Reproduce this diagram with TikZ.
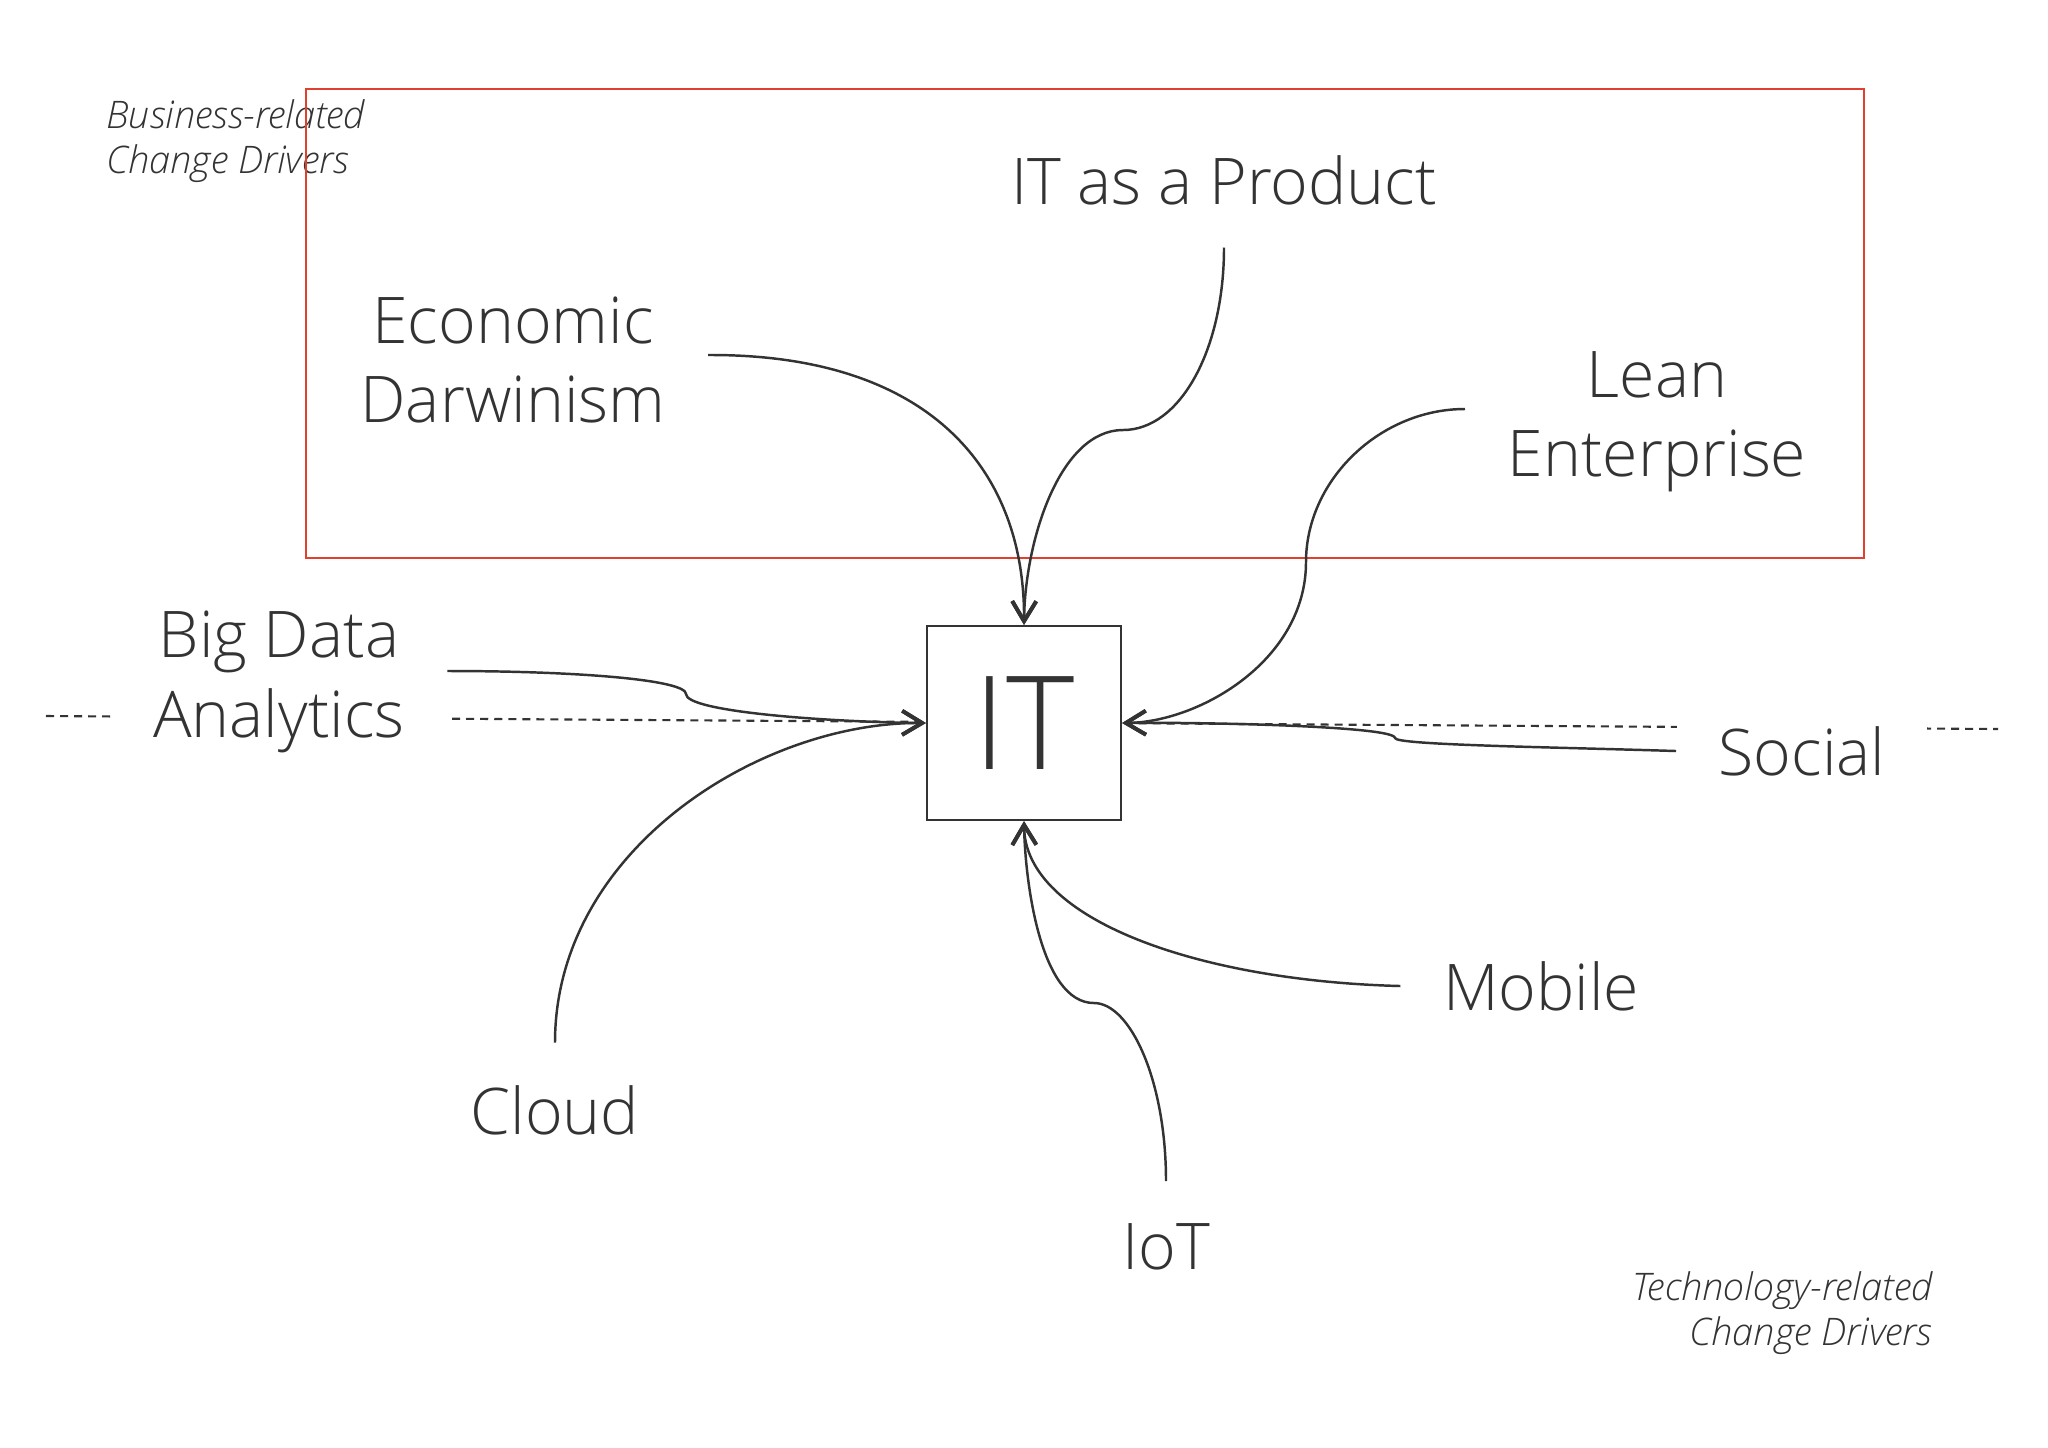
\documentclass[tikz,border=0pt]{standalone}
\usepackage{fontspec}
\setmainfont{Open Sans}[UprightFont=* Light, ItalicFont=* Light Italic]
\usetikzlibrary{arrows.meta, positioning}
\definecolor{ink}{HTML}{333333}
\definecolor{frame}{HTML}{E2402F}
\tikzset{
>={Straight Barb[length=2mm, width=2.4mm, line width=1.1pt]}, % open barbed heads
driver/.style={align=center, text=ink, fill=white, inner sep=0.42cm,
  font=\fontsize{18.3}{22.6}\selectfont}, % the change drivers
note/.style={inner sep=0pt, text=ink, font=\fontsize{10.8}{13}\selectfont\itshape},
core/.style={draw=ink, fill=white, line width=0.6pt, minimum size=1.94cm,
  text=ink, font=\fontsize{37}{40}\selectfont},
link/.style={->, draw=ink, line width=0.7pt},
}
\begin{document}
\begin{tikzpicture}[x=0.01cm, y=-0.01cm]
  \useasboundingbox (0,0) rectangle (2048,1447);

  % axis between the two kinds of drivers
  \coordinate (axl) at (46,716);
  \coordinate (axr) at (1998,729);
  \draw[ink, line width=0.6pt, dash pattern=on 0.08cm off 0.06cm] (axl) -- (axr);

  \node[note, anchor=west, align=left] (bnote) at (106,141) {Business-related\\Change Drivers};
  \node[note, anchor=east, align=right] (tnote) at (1933,1313) {Technology-related\\Change Drivers};

  \node[driver] (econ) at (513,360) {Economic\\Darwinism};
  \node[driver] (itprod) at (1224,180) {IT as a Product};
  \node[driver] (lean) at (1657,422) {Lean\\Enterprise};
  \node[driver] (bigdata) at (279,682) {Big Data\\Analytics};
  \node[driver] (social) at (1802,751) {Social};
  \node[driver] (mobile) at (1541,986) {Mobile};
  \node[driver] (cloud) at (555,1110) {Cloud};
  \node[driver] (iot) at (1166,1247) {IoT};

  \node[core] (it) at (1024,723) {IT};

  % business-related frame
  \draw[frame, line width=0.6pt] (306,89) rectangle (1864,558);

  \draw[link] ([yshift=0.05cm]econ.east) .. controls (930,354) and (1025,470) .. (it.north);
  \draw[link] (itprod.south) .. controls (1224,350) and (1180,430) .. (1123,430)
    .. controls (1060,430) and (1025,540) .. (it.north);
  \draw[link] ([yshift=0.13cm]lean.west) .. controls (1380,409) and (1306,480) .. (1306,562)
    .. controls (1306,660) and (1200,722) .. (it.east);
  \draw[link] ([yshift=0.11cm]bigdata.east) .. controls (580,671) and (686,680) .. (686,694)
    .. controls (686,712) and (830,722) .. (it.west);
  \draw[link] (social.west) .. controls (1550,747) and (1395,745) .. (1395,738)
    .. controls (1395,726) and (1200,722) .. (it.east);
  \draw[link] (cloud.north) .. controls (555,850) and (760,722) .. (it.west);
  \draw[link] (mobile.west) .. controls (1200,981) and (1025,920) .. (it.south);
  \draw[link] (iot.north) .. controls (1166,1080) and (1130,1003) .. (1094,1003)
    .. controls (1040,1003) and (1025,880) .. (it.south);
\end{tikzpicture}
\end{document}
